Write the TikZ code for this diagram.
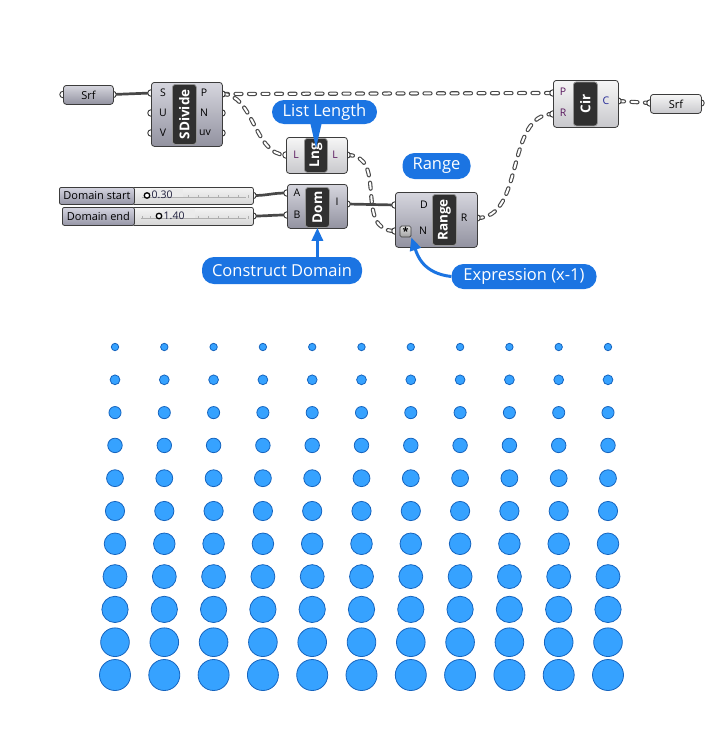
\documentclass[tikz,border=0pt]{standalone}
\usepackage{fontspec}
\setmainfont{Open Sans}
\usetikzlibrary{arrows.meta}
\definecolor{gblue}{RGB}{27,116,226}
\definecolor{dotfill}{RGB}{54,162,255}
\definecolor{dotline}{RGB}{22,100,190}
\definecolor{wirec}{RGB}{72,72,72}
\definecolor{compline}{RGB}{60,60,60}
\definecolor{lbl}{RGB}{90,25,95}
\definecolor{lblc}{RGB}{35,40,150}
\definecolor{barfill}{RGB}{48,48,48}
\definecolor{barline}{RGB}{150,150,150}
\definecolor{tickc}{RGB}{175,175,175}
\begin{document}
\begin{tikzpicture}[x=1pt,y=-1pt,
  comp/.style={draw=compline, line width=0.8, rounded corners=3, inner sep=0, anchor=north west,
    top color={rgb,255:red,214;green,214;blue,222}, bottom color={rgb,255:red,146;green,146;blue,160}},
  compl/.style={draw=compline, line width=0.8, rounded corners=3, inner sep=0, anchor=north west,
    top color={rgb,255:red,246;green,246;blue,246}, bottom color={rgb,255:red,200;green,200;blue,204}},
  barbox/.style={draw=barline, fill=barfill, line width=0.8, rounded corners=3, inner sep=0, anchor=north west},
  bartext/.style={text=white, font=\bfseries\fontsize{13.5}{14}\selectfont, rotate=90, inner sep=0},
  plbl/.style={font=\fontsize{10.5}{11}\selectfont, inner sep=0},
  port/.style={circle, draw=compline, fill=white, line width=0.9, minimum size=6.5, inner sep=0},
  wireS/.style={draw=wirec, line width=2.7},
  wireL/.style={draw=wirec, line width=4.2, dash pattern=on 6pt off 7.5pt, line cap=round,
    postaction={draw=white, line width=2, dash pattern=on 6pt off 7.5pt, line cap=round}},
  bubble/.style={fill=gblue, text=white, rounded corners=12, inner xsep=4, inner ysep=0,
    font=\fontsize{16.5}{17}\selectfont},
  barrow/.style={draw=gblue, line width=3, -{Triangle[width=11,length=13]}},
  slbl/.style={draw=compline, line width=0.8, rounded corners=2, inner sep=0, anchor=north west,
    top color={rgb,255:red,212;green,212;blue,224}, bottom color={rgb,255:red,150;green,150;blue,166},
    font=\fontsize{11}{12}\selectfont},
  sbody/.style={draw=compline, line width=0.8, rounded corners=2, inner sep=0, anchor=north west,
    top color={rgb,255:red,244;green,244;blue,244}, bottom color={rgb,255:red,214;green,214;blue,214}},
  smark/.style={circle, draw=black, fill=white, line width=1.3, minimum size=5.5, inner sep=0},
  sval/.style={font=\fontsize{10.5}{11}\selectfont, text={rgb,255:red,30;green,30;blue,60}, inner sep=0, anchor=west},
  dot/.style={circle, draw=dotline, fill=dotfill, line width=0.8, inner sep=0}
]
\useasboundingbox (0,0) rectangle (712,744);
\fill[white] (0,0) rectangle (712,744);

% ---------- port coordinates ----------
\coordinate (srfLi) at (63,94.5);
\coordinate (srfLo) at (113,94.5);
\coordinate (sdS) at (151,93);
\coordinate (sdU) at (151,113);
\coordinate (sdV) at (151,133);
\coordinate (sdP) at (222,94);
\coordinate (sdN) at (222,113);
\coordinate (sdUV) at (222,133);
\coordinate (lnI) at (286,155);
\coordinate (lnO) at (347,155);
\coordinate (doA) at (287,193);
\coordinate (doB) at (287,215);
\coordinate (doI) at (347,204);
\coordinate (raD) at (395,205);
\coordinate (raN) at (395,231);
\coordinate (raR) at (477,218);
\coordinate (ciP) at (553,93);
\coordinate (ciR) at (553,114);
\coordinate (ciC) at (618,101);
\coordinate (srfRi) at (650,103);
\coordinate (srfRo) at (701,103);
\coordinate (sl1o) at (253,195.5);
\coordinate (sl2o) at (253,216);

% ---------- wires ----------
\draw[wireS] (srfLo) -- (sdS);
\draw[wireL] (sdP) -- (ciP);
\draw[wireL] (sdP) .. controls +(32,0) and +(-32,0) .. (lnI);
\draw[wireL] (lnO) .. controls +(42,0) and +(-42,0) .. (raN);
\draw[wireL] (raR) .. controls +(48,0) and +(-48,0) .. (ciR);
\draw[wireL] (ciC) -- (srfRi);
\draw[wireS] (sl1o) .. controls +(16,0) and +(-16,0) .. (doA);
\draw[wireS] (sl2o) .. controls +(16,0) and +(-16,0) .. (doB);
\draw[wireS] (doI) -- (raD);

% ---------- ports ----------
\foreach \p in {srfLi,srfLo,sdS,sdU,sdV,sdP,sdN,sdUV,lnI,lnO,doA,doB,doI,raD,raN,raR,ciP,ciR,ciC,srfRi,srfRo,sl1o,sl2o}
  \node[port] (port-\p) at (\p) {};

% ---------- Srf (left) ----------
\node[comp, minimum width=50, minimum height=19] (srfL) at (63,85) {};
\node[plbl, font=\fontsize{11}{12}\selectfont] (srfLt) at (srfL.center) {Srf};

% ---------- SDivide ----------
\node[comp, minimum width=71, minimum height=64] (sdiv) at (151,82) {};
\node[barbox, minimum width=24, minimum height=60] (sdivbar) at (172,84) {};
\node[bartext] (sdivt) at (sdivbar.center) {SDivide};
\node[plbl] (sdSl) at (163,93) {S};
\node[plbl] (sdUl) at (163,113) {U};
\node[plbl] (sdVl) at (163,133) {V};
\node[plbl] (sdPl) at (204,93) {P};
\node[plbl] (sdNl) at (204,113) {N};
\node[plbl] (sdUVl) at (205,133) {uv};

% ---------- List Length ----------
\node[compl, minimum width=61, minimum height=36] (lng) at (286,137) {};
\node[barbox, minimum width=23, minimum height=34] (lngbar) at (304,138) {};
\node[bartext] (lngt) at (lngbar.center) {Lng};
\node[plbl, text=lbl] (lnIl) at (296,155) {L};
\node[plbl, text=lbl] (lnOl) at (335,155) {L};

% ---------- Construct Domain ----------
\node[comp, minimum width=60, minimum height=44] (dom) at (287,184) {};
\node[barbox, minimum width=24, minimum height=40] (dombar) at (305,187) {};
\node[bartext] (domt) at (dombar.center) {Dom};
\node[plbl] (doAl) at (297,193) {A};
\node[plbl] (doBl) at (297,215) {B};
\node[plbl] (doIl) at (337,202) {I};

% ---------- Range ----------
\node[comp, minimum width=82, minimum height=55] (range) at (395,192) {};
\node[barbox, minimum width=24, minimum height=51] (rangebar) at (432,194) {};
\node[bartext] (ranget) at (rangebar.center) {Range};
\node[plbl] (raDl) at (424,205) {D};
\node[plbl] (raNl) at (423,231) {N};
\node[plbl] (raRl) at (464,218) {R};
\node[draw=compline, line width=0.7, rounded corners=1.5, minimum size=11, inner sep=0,
  top color={rgb,255:red,225;green,225;blue,225}, bottom color={rgb,255:red,160;green,160;blue,160},
  font=\bfseries\fontsize{11}{11}\selectfont] (raIcon) at (405.5,231.5) {\raisebox{-2.5pt}{*}};

% ---------- Circle ----------
\node[compl, minimum width=65, minimum height=47] (cir) at (553,80) {};
\node[barbox, minimum width=24, minimum height=44] (cirbar) at (573,81.5) {};
\node[bartext] (cirt) at (cirbar.center) {Cir};
\node[plbl, text=lbl] (ciPl) at (563,92) {P};
\node[plbl, text=lbl] (ciRl) at (563,113) {R};
\node[plbl, text=lblc] (ciCl) at (606,101) {C};

% ---------- Srf (right) ----------
\node[compl, minimum width=51, minimum height=19] (srfR) at (650,94) {};
\node[plbl, font=\fontsize{11}{12}\selectfont] (srfRt) at (srfR.center) {Srf};

% ---------- sliders ----------
\node[sbody, minimum width=121, minimum height=17] (sl1b) at (132,187) {};
\node[slbl, minimum width=75, minimum height=17] (sl1l) at (59,187) {Domain start};
\node[sbody, minimum width=121, minimum height=18] (sl2b) at (132,207) {};
\node[slbl, minimum width=72, minimum height=18] (sl2l) at (62,207) {Domain end};
\foreach \x in {188,198,...,248} \draw[tickc, line width=0.6] (\x,197.5) -- (\x,194.5);
\draw[tickc, line width=0.6] (142,197.5) -- (246,197.5);
\foreach \x in {142,150,188,198,...,248} \draw[tickc, line width=0.6] (\x,218.5) -- (\x,215.5);
\draw[tickc, line width=0.6] (141,218.5) -- (246,218.5);
\fill[white!92!black] (150.5,188.5) rectangle (183,197);
\fill[white!92!black] (162.5,209) rectangle (195,218);
\node[smark] (sl1m) at (147,195.5) {};
\node[sval] (sl1v) at (151.5,195) {0.30};
\node[smark] (sl2m) at (159,216) {};
\node[sval] (sl2v) at (163.5,215.5) {1.40};

% ---------- blue callouts ----------
\node[bubble, minimum width=105, minimum height=24] (lenb) at (324.5,112) {List Length};
\coordinate (lenTip) at (316,148);
\fill[gblue] (310,122) -- (322,122) -- (lenTip) -- cycle;
\node[bubble, minimum width=68, minimum height=26] (rangeb) at (436.5,166) {Range};
\node[bubble, minimum width=160, minimum height=27] (cdb) at (282,270.5) {Construct Domain};
\draw[barrow] (cdb.north -| dombar.south) -- (dombar.south);
\node[bubble, minimum width=145, minimum height=25] (exb) at (524,276.5) {Expression (x-1)};
\draw[barrow] (exb.west) .. controls +(-28,-3) and +(6,18) .. (raIcon.south east);

% ---------- circle grid ----------
\foreach \j in {0,...,10} {
  \foreach \i in {0,...,10} {
    \pgfmathsetmacro{\dx}{115+49.3*\i}
    \pgfmathsetmacro{\dy}{347+32.8*\j}
    \pgfmathsetmacro{\dd}{2*(3.7+1.18*\j)}
    \node[dot, minimum size=\dd] (d-\i-\j) at (\dx,\dy) {};
  }
}
\end{tikzpicture}
\end{document}
